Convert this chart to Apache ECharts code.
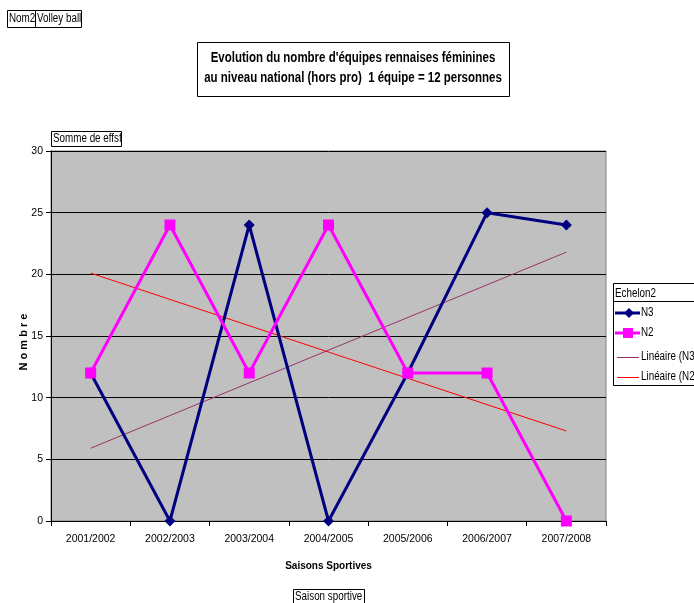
<!DOCTYPE html>
<html><head><meta charset="utf-8">
<script src="https://cdn.jsdelivr.net/npm/echarts@6/dist/echarts.min.js"></script>
<style>html,body{margin:0;padding:0;background:#fff}#c{width:694px;height:603px}</style>
</head><body><div id="c"></div>
<script>
const categories = ['2001/2002','2002/2003','2003/2004','2004/2005','2005/2006','2006/2007','2007/2008'];
const n3 = [12, 0, 24, 0, 12, 25, 24];
const n2 = [12, 24, 12, 24, 12, 12, 0];
const trendN3 = [5.9, null, null, null, null, null, 21.8];
const trendN2 = [20.1, null, null, null, null, null, 7.3];
const yTicks = [0, 5, 10, 15, 20, 25, 30];

const F = '"Liberation Sans", Arial, sans-serif';
const SX = 0.82;
function txt(x, y, text, font, align) {
  return { type: 'text', x: x, y: y, scaleX: SX,
    style: { text: text, font: font + ' ' + F, fill: '#000', textAlign: align || 'left' } };
}
const chart = echarts.init(document.getElementById('c'));
chart.setOption({
  animation: false,
  backgroundColor: '#fff',
  textStyle: { fontFamily: F },
  grid: { left: 51, right: 88, top: 151, bottom: 82, show: true, backgroundColor: '#c0c0c0', borderColor: '#808080', borderWidth: 1 },
  xAxis: {
    type: 'category', data: categories, boundaryGap: true,
    name: 'Saisons Sportives', nameLocation: 'middle', nameGap: 40,
    nameTextStyle: { fontFamily: F, fontSize: 10, fontWeight: 'bold', color: '#000' },
    axisLine: { lineStyle: { color: '#000', width: 1 } },
    axisTick: { show: true, length: 5, lineStyle: { color: '#000' } },
    axisLabel: { fontFamily: F, fontSize: 10.5, color: '#000', margin: 13 },
    splitLine: { show: false }
  },
  yAxis: {
    type: 'value', min: 0, max: 30, interval: 5,
    axisLine: { show: true, lineStyle: { color: '#000', width: 1 } },
    axisTick: { show: true, length: 5, lineStyle: { color: '#000' } },
    axisLabel: { fontFamily: F, fontSize: 10.5, color: '#000', margin: 8,
      formatter: v => yTicks.includes(v) ? String(v) : '' },
    splitLine: { show: true, lineStyle: { color: '#000', width: 1 } }
  },
  series: [
    { name: 'N3', type: 'line', data: n3, symbol: 'diamond', symbolSize: 11,
      lineStyle: { color: '#000080', width: 3 }, itemStyle: { color: '#000080' }, z: 3 },
    { name: 'N2', type: 'line', data: n2, symbol: 'rect', symbolSize: 11,
      lineStyle: { color: '#ff00ff', width: 3 }, itemStyle: { color: '#ff00ff' }, z: 4 },
    { name: 'Linéaire (N3)', type: 'line', data: trendN3, connectNulls: true, symbol: 'none',
      lineStyle: { color: '#993366', width: 1 }, itemStyle: { color: '#993366' }, z: 2 },
    { name: 'Linéaire (N2)', type: 'line', data: trendN2, connectNulls: true, symbol: 'none',
      lineStyle: { color: '#ff0000', width: 1 }, itemStyle: { color: '#ff0000' }, z: 2 }
  ],
  graphic: [
    { type: 'text', x: 24, y: 342, rotation: Math.PI / 2,
      style: { text: 'N o m b r e', font: 'bold 11px ' + F, fill: '#000', textAlign: 'center', textVerticalAlign: 'middle' } },

    { type: 'rect', shape: { x: 7.5, y: 10.5, width: 74, height: 17 }, style: { fill: '#fff', stroke: '#000', lineWidth: 1 } },
    { type: 'line', shape: { x1: 35.5, y1: 10.5, x2: 35.5, y2: 27.5 }, style: { stroke: '#000', lineWidth: 1 } },
    txt(9, 13, 'Nom2', '12px'),
    txt(37, 13, 'Volley ball', '12px'),

    { type: 'rect', shape: { x: 197.5, y: 42.5, width: 312, height: 54 }, style: { fill: '#fff', stroke: '#000', lineWidth: 1 } },
    txt(353, 51, "Evolution du nombre d'équipes rennaises féminines", 'bold 14px', 'center'),
    txt(353, 71, 'au niveau national (hors pro)  1 équipe = 12 personnes', 'bold 14px', 'center'),

    { type: 'rect', shape: { x: 51.5, y: 131.5, width: 70, height: 15 }, style: { fill: '#fff', stroke: '#000', lineWidth: 1 } },
    txt(53, 133, 'Somme de effsf', '12px'),

    { type: 'rect', shape: { x: 613.5, y: 283.5, width: 90, height: 102 }, style: { fill: '#fff', stroke: '#000', lineWidth: 1 } },
    { type: 'line', shape: { x1: 613.5, y1: 301.5, x2: 694, y2: 301.5 }, style: { stroke: '#000', lineWidth: 1 } },
    txt(615, 288, 'Echelon2', '12px'),

    { type: 'line', shape: { x1: 615, y1: 313, x2: 640, y2: 313 }, style: { stroke: '#000080', lineWidth: 3 } },
    { type: 'polygon', shape: { points: [[629, 308], [634, 313], [629, 318], [624, 313]] }, style: { fill: '#000080' } },
    txt(641, 307, 'N3', '12px'),

    { type: 'line', shape: { x1: 615, y1: 333, x2: 640, y2: 333 }, style: { stroke: '#ff00ff', lineWidth: 3 } },
    { type: 'rect', shape: { x: 623, y: 328, width: 10, height: 10 }, style: { fill: '#ff00ff' } },
    txt(641, 327, 'N2', '12px'),

    { type: 'line', shape: { x1: 617, y1: 357.5, x2: 639, y2: 357.5 }, style: { stroke: '#993366', lineWidth: 1 } },
    txt(641, 351, 'Linéaire (N3)', '12px'),

    { type: 'line', shape: { x1: 617, y1: 377.5, x2: 639, y2: 377.5 }, style: { stroke: '#ff0000', lineWidth: 1 } },
    txt(641, 371, 'Linéaire (N2)', '12px'),

    { type: 'rect', shape: { x: 293.5, y: 589.5, width: 71, height: 16 }, style: { fill: '#fff', stroke: '#000', lineWidth: 1 } },
    txt(295, 591, 'Saison sportive', '12px')
  ]
});
</script></body></html>
